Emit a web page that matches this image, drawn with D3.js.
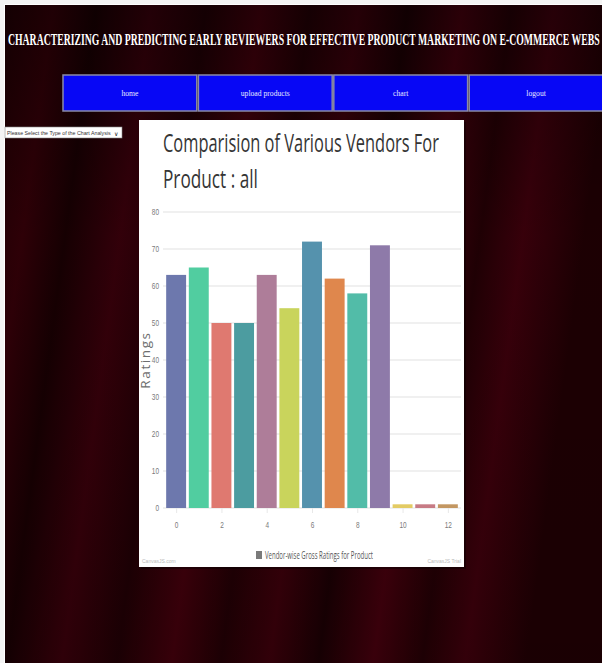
<!DOCTYPE html>
<html><head><meta charset="utf-8">
<script src="https://cdn.jsdelivr.net/npm/d3@7"></script>
<style>html,body{margin:0;padding:0;background:#fff;overflow:hidden}svg{display:block}</style>
</head><body>
<svg id="page" width="602" height="663"></svg>
<script>
// ---- data ----
const visibleTitle = "CHARACTERIZING AND PREDICTING EARLY REVIEWERS FOR EFFECTIVE PRODUCT MARKETING ON E-COMMERCE WEBS";
const navItems = ["home", "upload products", "chart", "logout"];
const selectLabel = "Please Select the Type of the Chart Analysis";
const chartTitleLines = ["Comparision of Various Vendors For", "Product : all"];
const vendors = [0, 1, 2, 3, 4, 5, 6, 7, 8, 9, 10, 11, 12];
const ratings = [63, 65, 50, 50, 63, 54, 72, 62, 58, 71, 1, 1, 1];
const yTicks = [0, 10, 20, 30, 40, 50, 60, 70, 80];
const xTicks = [0, 2, 4, 6, 8, 10, 12];
const barColors = ["#6D78AD", "#51CDA0", "#DF7970", "#4C9CA0", "#AE7D99", "#C9D45C", "#5592AD", "#DF874D", "#52BCA8", "#8E7AA9", "#E3CB64", "#C77B85", "#C39762"];
const yAxisTitle = "Ratings";
const legendLabel = "Vendor-wise Gross Ratings for Product";

const svg = d3.select("#page");
const defs = svg.append("defs");

// helper: squeeze a text horizontally to a target width around its anchor x
function squeeze(sel, x0, yb, target) {
  const wN = sel.node().getComputedTextLength();
  const s = target / wN;
  sel.attr("x", 0).attr("y", 0).attr("transform", `translate(${x0},${yb}) scale(${s},1)`);
}

// background
const bg = defs.append("linearGradient").attr("id", "bgGrad").attr("x1", 0).attr("x2", 1).attr("y1", 0).attr("y2", 0.15);
[["0", "#1e0003"], ["0.08", "#300007"], ["0.15", "#170002"], ["0.24", "#35000a"], ["0.33", "#1e0004"], ["0.42", "#3e000b"], ["0.5", "#200004"], ["0.58", "#38000a"], ["0.66", "#190003"], ["0.75", "#40000c"], ["0.83", "#210004"], ["0.9", "#3a000b"], ["1", "#1e0003"]]
  .forEach(([o, c]) => bg.append("stop").attr("offset", o).attr("stop-color", c));
const vg = defs.append("linearGradient").attr("id", "vGrad").attr("x1", 0).attr("x2", 0).attr("y1", 0).attr("y2", 1);
vg.append("stop").attr("offset", "0").attr("stop-color", "#000").attr("stop-opacity", 0.35);
vg.append("stop").attr("offset", "0.35").attr("stop-color", "#000").attr("stop-opacity", 0.05);
vg.append("stop").attr("offset", "1").attr("stop-color", "#000").attr("stop-opacity", 0.12);

svg.append("rect").attr("x", 5).attr("y", 5).attr("width", 597).attr("height", 658).attr("fill", "url(#bgGrad)");
svg.append("rect").attr("x", 5).attr("y", 5).attr("width", 597).attr("height", 658).attr("fill", "url(#vGrad)");

// page header (condensed serif, as visible up to the right edge)
const hdr = svg.append("text").attr("font-family", "Liberation Serif, serif").attr("font-weight", "bold")
  .attr("font-size", 17).attr("fill", "#ffffff").text(visibleTitle);
squeeze(hdr, 8, 45, 592);

// nav buttons
const navX = d3.scaleBand().domain(navItems).range([63, 603]).paddingInner(0.012);
const nav = svg.append("g").selectAll("g").data(navItems).join("g");
nav.append("rect").attr("x", d => navX(d)).attr("y", 75).attr("width", navX.bandwidth()).attr("height", 36)
  .attr("fill", "#0707f5").attr("stroke", "#8a8aa8").attr("stroke-width", 1.5);
nav.append("text").attr("x", d => navX(d) + navX.bandwidth() / 2).attr("y", 96)
  .attr("text-anchor", "middle").attr("font-family", "Liberation Serif, serif").attr("font-size", 9)
  .attr("fill", "#e8e8ff").attr("transform", d => { const cx = navX(d) + navX.bandwidth() / 2; return `translate(${cx},0) scale(0.85,1) translate(${-cx},0)`; })
  .text(d => d);

// select box
svg.append("rect").attr("x", 5).attr("y", 127).attr("width", 117).attr("height", 11).attr("fill", "#fff").attr("stroke", "#888").attr("stroke-width", 0.6);
const selT = svg.append("text").attr("font-family", "Liberation Sans, sans-serif").attr("font-size", 5.5)
  .attr("fill", "#333").text(selectLabel);
squeeze(selT, 7, 135, 104);
svg.append("text").attr("x", 114).attr("y", 135.5).attr("font-family", "DejaVu Sans, sans-serif").attr("font-size", 6).attr("fill", "#222").text("\u2228");

// chart panel
svg.append("rect").attr("x", 141).attr("y", 122).attr("width", 325).attr("height", 447).attr("fill", "#000").attr("opacity", 0.35);
svg.append("rect").attr("x", 139).attr("y", 120).attr("width", 325).attr("height", 447).attr("fill", "#ffffff");

// chart title
const titleFont = "Open Sans, Noto Sans, sans-serif";
const titleLens = [276, 95];
chartTitleLines.forEach((t, i) => {
  const tt = svg.append("text").attr("font-family", titleFont)
    .attr("font-size", 26).attr("fill", "#353535").text(t);
  squeeze(tt, 163, 152 + i * 36, titleLens[i]);
});

// scales
const x = d3.scaleLinear().domain([-0.58, 12.58]).range([163, 461]);
const y = d3.scaleLinear().domain([0, 80]).range([508, 212]);

// gridlines
svg.append("g").selectAll("line").data(yTicks).join("line")
  .attr("x1", x.range()[0]).attr("x2", x.range()[1]).attr("y1", d => y(d)).attr("y2", d => y(d))
  .attr("stroke", "#e2e2e2").attr("stroke-width", 1.2);

// y axis labels (condensed)
const tickScale = 0.72;
const yAxis = svg.append("g").attr("transform", `translate(${x.range()[0]},0)`)
  .call(d3.axisLeft(y).tickValues(yTicks).tickSize(0).tickPadding(4));
yAxis.select(".domain").remove();
yAxis.selectAll("text").attr("font-family", "Liberation Sans, sans-serif").attr("font-size", 9).attr("fill", "#7a7a7a")
  .attr("x", -4 / tickScale).attr("transform", `scale(${tickScale},1)`);

// x axis
const xAxis = svg.append("g").attr("transform", `translate(0,${y(0)})`)
  .call(d3.axisBottom(x).tickValues(xTicks).tickFormat(d3.format("d")).tickSize(5).tickPadding(9));
xAxis.select(".domain").remove();
xAxis.selectAll("line").attr("stroke", "#e8e8e8");
xAxis.selectAll("text").attr("font-family", "Liberation Sans, sans-serif").attr("font-size", 9).attr("fill", "#7a7a7a")
  .attr("transform", `scale(${tickScale},1)`);

// bars
const halfW = 0.44;
svg.append("g").selectAll("rect").data(vendors).join("rect")
  .attr("x", (d) => x(d - halfW)).attr("width", x(halfW) - x(-halfW))
  .attr("y", (d, i) => y(ratings[i])).attr("height", (d, i) => y(0) - y(ratings[i]))
  .attr("fill", (d, i) => barColors[i % barColors.length]);

// y axis title
svg.append("text").attr("transform", `translate(150,360) rotate(-90)`).attr("text-anchor", "middle")
  .attr("font-family", "Open Sans, sans-serif").attr("font-size", 13.5).attr("fill", "#6e6e6e")
  .attr("letter-spacing", 1.6).text(yAxisTitle);

// legend
svg.append("rect").attr("x", 256).attr("y", 551).attr("width", 6).attr("height", 8).attr("fill", "#7a7a7a");
const lg = svg.append("text").attr("font-family", "Open Sans, sans-serif").attr("font-size", 10)
  .attr("fill", "#555").text(legendLabel);
squeeze(lg, 265, 559, 108);

// credits
svg.append("text").attr("x", 142).attr("y", 563).attr("font-family", "Liberation Sans, sans-serif").attr("font-size", 5).attr("fill", "#bbb").text("CanvasJS.com");
svg.append("text").attr("x", 461).attr("y", 563).attr("text-anchor", "end").attr("font-family", "Liberation Sans, sans-serif").attr("font-size", 5).attr("fill", "#bbb").text("CanvasJS Trial");

// white page margin
svg.append("rect").attr("x", 0).attr("y", 0).attr("width", 602).attr("height", 4).attr("fill", "#f4f4f4");
svg.append("rect").attr("x", 0).attr("y", 0).attr("width", 4).attr("height", 663).attr("fill", "#f4f4f4");
</script>
</body></html>
